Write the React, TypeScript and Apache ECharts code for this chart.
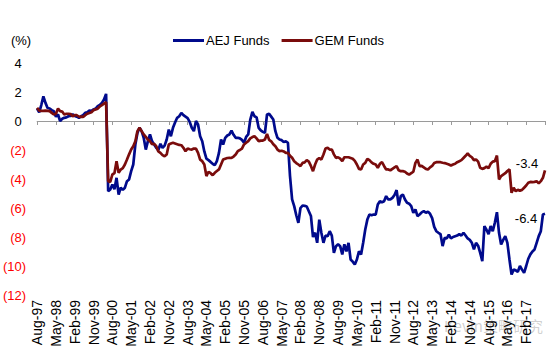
import React, { useEffect, useRef } from "react";
import * as echarts from "echarts";

const MONTHS = ["Jan", "Feb", "Mar", "Apr", "May", "Jun", "Jul", "Aug", "Sep", "Oct", "Nov", "Dec"];
const START_YEAR = 1997;
const START_MONTH = 7; // Aug

const aejFunds = [
  0.86, 0.6, 1.1, 1.7, 1.25, 0.9, 0.86, 0.75, 0.68, 0.3,
  0.45, 0.0, 0.15, 0.22, 0.25, 0.33, 0.35, 0.45, 0.35, 0.3,
  0.22, 0.33, 0.4, 0.56, 0.6, 0.72, 0.7, 0.8, 0.86, 1.02,
  1.1, 1.25, 1.48, 1.87, -4.84, -4.72, -4.38, -4.7, -3.92, -5.07,
  -4.6, -4.75, -4.6, -4.15, -4.03, -3.46, -3.0, -1.62, -0.82, -0.47,
  -0.7, -1.16, -1.97, -1.39, -0.93, -1.4, -1.62, -1.85, -2.0, -1.57,
  -1.85, -1.7, -1.28, -0.59, -1.05, -0.47, -0.1, 0.22, 0.33, 0.56,
  0.4, 0.3, 0.2, -0.06, -0.47, -0.7, 0.0, -0.24, -1.05, -1.39,
  -2.1, -2.6, -2.7, -2.82, -2.95, -3.05, -2.77, -2.2, -1.28, -1.62,
  -1.16, -1.0, -0.93, -0.66, -0.95, -1.16, -1.16, -1.2, -1.3, -1.5,
  -1.1, -0.93, 0.1, 0.63, 0.33, 0.25, -0.47, -0.65, -0.75, -0.82,
  0.45, 0.5, 0.3, 0.1, -0.7, -1.16, -1.28, -1.32, -1.45, -1.4,
  -1.5, -3.8, -5.41, -5.87, -6.5, -7.02, -6.0, -5.83, -5.85, -5.9,
  -6.22, -6.55, -8.0, -7.7, -8.4, -6.8, -7.7, -8.4, -7.9, -7.94,
  -7.6, -7.9, -9.09, -8.63, -8.5, -8.63, -9.2, -8.5, -9.0, -8.4,
  -9.55, -9.7, -9.9, -9.55, -8.98, -9.2, -8.4, -7.48, -6.8, -6.45,
  -6.5, -6.45, -6.45, -5.76, -5.53, -5.6, -5.53, -5.18, -5.41, -5.41,
  -5.3, -5.1, -4.77, -5.83, -5.18, -5.07, -5.41, -5.64, -5.7, -5.87,
  -6.33, -6.1, -6.56, -6.45, -6.3, -6.22, -6.33, -6.25, -6.4, -6.7,
  -7.3, -7.6, -7.71, -7.8, -8.63, -8.06, -8.1, -7.83, -8.1, -8.0,
  -7.95, -7.9, -7.8, -7.9, -7.71, -7.9, -8.1, -8.2, -8.4, -8.86,
  -8.4, -8.6, -9.09, -9.67, -7.25, -7.5, -7.8, -7.25, -7.6, -7.02,
  -6.29, -7.71, -8.52, -8.2, -7.94, -8.4, -9.55, -10.59, -10.25, -10.3,
  -10.4, -10.0, -10.25, -10.47, -10.0, -9.5, -9.2, -9.0, -8.86, -8.4,
  -7.94, -7.6, -6.45, -6.4,
];

const gemFunds = [
  0.91, 0.72, 0.7, 0.7, 0.72, 0.7, 0.68, 0.56, 0.45, 0.5,
  0.86, 0.68, 0.65, 0.45, 0.5, 0.5, 0.48, 0.33, 0.4, 0.4,
  0.29, 0.3, 0.28, 0.4, 0.5, 0.55, 0.6, 0.75, 0.8, 0.85,
  1.0, 1.1, 1.2, 1.3, -4.15, -4.2, -3.69, -3.6, -2.77, -3.57,
  -3.35, -3.25, -3.0, -2.66, -2.3, -1.97, -1.74, -1.39, -0.7, -0.47,
  -0.7, -0.93, -1.1, -1.28, -1.39, -1.6, -1.57, -1.74, -2.1, -2.2,
  -2.35, -2.43, -2.31, -1.62, -1.55, -1.5, -1.55, -1.6, -1.65, -1.67,
  -1.85, -2.08, -1.9, -1.95, -1.97, -1.9, -1.9, -2.2, -2.66, -2.77,
  -3.0, -3.8, -3.5, -3.6, -3.74, -3.57, -3.45, -3.34, -3.0, -2.66,
  -2.6, -2.55, -2.54, -2.55, -2.45, -2.31, -2.08, -2.0, -1.9, -1.62,
  -1.5, -1.39, -1.2, -1.11, -1.05, -1.2, -1.39, -1.35, -1.35, -1.28,
  -0.89, -1.3, -1.4, -1.6, -1.74, -1.97, -2.08, -2.05, -2.1, -2.2,
  -2.2, -2.4, -2.54, -2.77, -2.9, -3.0, -3.11, -2.89, -2.85, -2.7,
  -2.8, -3.1, -3.46, -3.0, -2.66, -2.55, -2.66, -2.31, -1.9, -1.85,
  -1.97, -1.97, -2.3, -2.54, -2.5, -2.6, -2.77, -2.5, -2.5, -2.5,
  -2.55, -2.6, -2.75, -3.0, -3.3, -3.34, -3.0, -2.89, -2.61, -2.7,
  -2.85, -2.95, -3.0, -3.23, -2.95, -2.84, -3.1, -3.34, -3.34, -3.4,
  -3.3, -3.2, -3.11, -3.4, -3.46, -3.46, -3.5, -3.62, -3.7, -3.6,
  -3.5, -2.89, -2.66, -3.11, -3.1, -3.2, -3.3, -3.34, -3.2, -3.1,
  -2.9, -2.84, -2.84, -2.84, -2.88, -2.9, -2.95, -3.0, -3.07, -3.0,
  -2.95, -2.84, -2.77, -2.7, -2.55, -2.4, -2.24, -2.4, -2.5, -2.7,
  -2.65, -2.8, -3.23, -3.3, -3.25, -3.15, -3.25, -2.95, -2.8, -2.77,
  -2.38, -4.03, -3.8, -3.7, -3.6, -3.45, -3.34, -4.95, -4.6, -4.84,
  -4.75, -4.8, -4.75, -4.6, -4.45, -4.26, -4.2, -4.22, -4.2, -4.15,
  -4.3, -4.15, -3.92, -3.4,
];

const categories = aejFunds.map((_, i) => {
  const m = START_MONTH + i;
  const y = START_YEAR + Math.floor(m / 12);
  return `${MONTHS[m % 12]}-${String(y % 100).padStart(2, "0")}`;
});

const Y_MIN = -12;
const Y_MAX = 4;
const Y_STEP = 2;
const LABEL_EVERY = 9;
const LAST_LABEL_INDEX = 234;

const FONT = "Liberation Sans, Arial, sans-serif";
const BLUE = "#000a8c";
const RED = "#7a0c0c";

export default function App() {
  const ref = useRef<HTMLDivElement>(null);

  useEffect(() => {
    if (!ref.current) return;
    const chart = echarts.init(ref.current, null, { renderer: "svg" });
    const last = aejFunds.length - 1;
    const option: any = {
      animation: false,
      backgroundColor: "#fff",
      textStyle: { fontFamily: FONT },
      legend: {
        top: 29,
        left: 168,
        itemWidth: 31,
        itemHeight: 3,
        itemGap: 12,
        icon: "rect",
        textStyle: { fontSize: 13, color: "#000", fontFamily: FONT, padding: [0, 0, 0, -3] },
        data: ["AEJ Funds", "GEM Funds"],
      },
      grid: { left: 37, right: 2, top: 63, bottom: 58 },
      xAxis: [
        {
          type: "category",
          data: categories,
          boundaryGap: false,
          position: "bottom",
          axisLine: { show: false, onZero: false },
          axisTick: { show: false },
          splitLine: { show: false },
          axisLabel: {
            rotate: 90,
            fontSize: 14,
            color: "#000",
            fontFamily: FONT,
            margin: 5,
            interval: (i: number) => i % LABEL_EVERY === 0 && i <= LAST_LABEL_INDEX,
          },
        },
        {
          type: "category",
          data: categories,
          boundaryGap: false,
          position: "bottom",
          axisLine: { show: true, onZero: true, lineStyle: { color: "#9a9a9a", width: 1 } },
          axisTick: {
            show: true,
            length: 4,
            interval: (i: number) => i % LABEL_EVERY === 0,
            lineStyle: { color: "#9a9a9a" },
          },
          axisLabel: { show: false },
          splitLine: { show: false },
        },
      ],
      yAxis: {
        type: "value",
        min: Y_MIN,
        max: Y_MAX,
        interval: Y_STEP,
        axisLine: { show: false },
        axisTick: { show: false },
        splitLine: { show: false },
        axisLabel: {
          margin: 11,
          fontSize: 13,
          fontFamily: FONT,
          formatter: (v: number) => (v < 0 ? `{n|(${Math.abs(v)})}` : `{p|${v}}{h|)}`),
          rich: {
            n: { color: "#ff0000", fontSize: 13, fontFamily: FONT },
            p: { color: "#000", fontSize: 13, fontFamily: FONT },
            h: { color: "rgba(0,0,0,0)", fontSize: 13, fontFamily: FONT },
          },
        },
        name: "(%)",
        nameLocation: "end",
        nameGap: 16,
        nameTextStyle: { fontSize: 13, color: "#000", fontFamily: FONT, align: "right", padding: [0, 6, 0, 0] },
      },
      series: [
        {
          name: "AEJ Funds",
          type: "line",
          xAxisIndex: 0,
          data: aejFunds,
          symbol: "none",
          lineStyle: { color: BLUE, width: 2.7 },
          itemStyle: { color: BLUE },
          markPoint: {
            symbol: "circle",
            symbolSize: 0,
            data: [{ coord: [categories[last], aejFunds[last]], value: aejFunds[last] }],
            label: {
              show: true,
              position: "inside",
              offset: [-19, 5],
              color: "#000",
              fontSize: 13,
              fontFamily: FONT,
              formatter: (p: any) => Number(p.value).toFixed(1),
            },
          },
        },
        {
          name: "GEM Funds",
          type: "line",
          xAxisIndex: 0,
          data: gemFunds,
          symbol: "none",
          lineStyle: { color: RED, width: 2.7 },
          itemStyle: { color: RED },
          markPoint: {
            symbol: "circle",
            symbolSize: 0,
            data: [{ coord: [categories[last], gemFunds[last]], value: gemFunds[last] }],
            label: {
              show: true,
              position: "inside",
              offset: [-18, -7],
              color: "#000",
              fontSize: 13,
              fontFamily: FONT,
              formatter: (p: any) => Number(p.value).toFixed(1),
            },
          },
        },
      ],
      graphic: [
        {
          type: "text",
          right: 4,
          top: 318,
          silent: true,
          style: {
            text: "Kevin策略研究",
            fontSize: 15,
            fontFamily: "Noto Sans CJK SC, sans-serif",
            fill: "rgba(150,150,150,0.45)",
          },
        },
      ],
    };
    chart.setOption(option);
    return () => chart.dispose();
  }, []);

  return (
    <div
      ref={ref}
      style={{ position: "fixed", left: 0, top: 0, width: 547, height: 353 }}
    />
  );
}
